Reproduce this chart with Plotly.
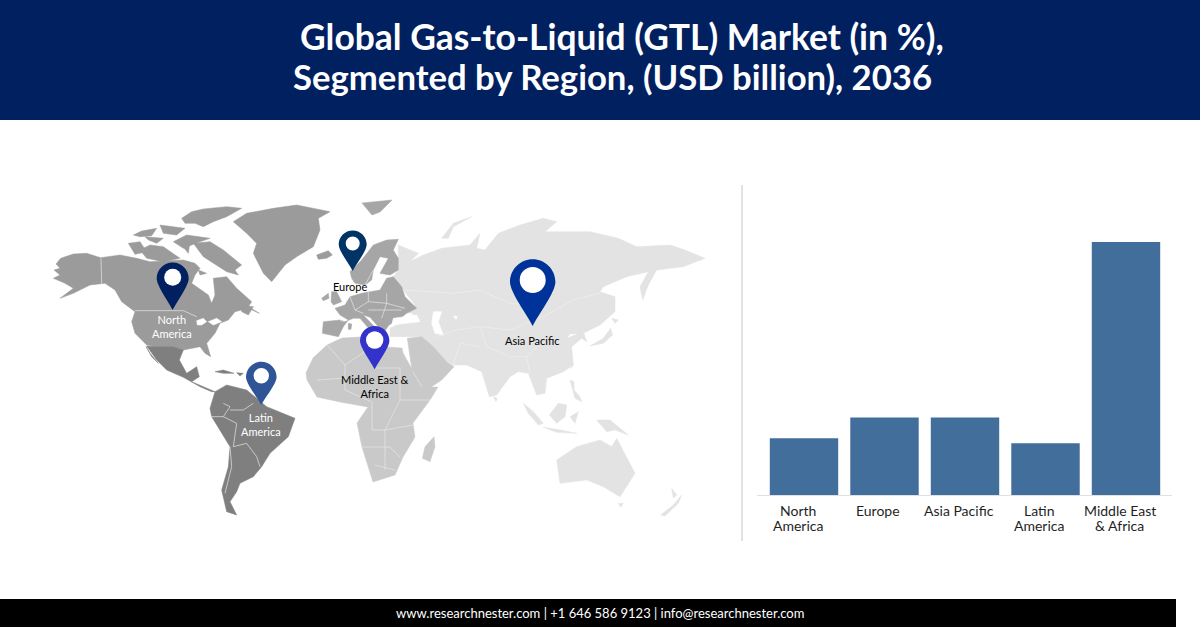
import plotly.graph_objects as go

# === CHART DATA ===
regions = ["North<br>America", "Europe", "Asia Pacific", "Latin<br>America", "Middle East<br>& Africa"]
shares = [11, 15, 15, 10, 49]

title_lines = ["Global Gas-to-Liquid (GTL) Market (in %),", "Segmented by Region, (USD billion), 2036"]
footer_text = "www.researchnester.com | +1 646 586 9123 | info@researchnester.com"

# === COLOURS ===
NAVY = "#002060"
BAR = "#416e9b"
NA_GREY = "#9b9b9b"
EU_GREY = "#a6a6a6"
LA_GREY = "#7f7f7f"
MEA_GREY = "#c9c9c9"
ASIA_GREY = "#e3e3e3"

# === MAP OUTLINES ===
# traced by hand off 3x crops of the reference, offsets below bring them back to page pixels
def crop1(pts):
    return [(40 + x / 3, 190 + y / 3) for x, y in pts]

def crop2(pts):
    return [(370 + x / 3, 190 + y / 3) for x, y in pts]

def crop3(pts):
    return [(120 + x / 3, 195 + y / 3) for x, y in pts]

def crop4(pts):
    return [(315 + x / 3, 230 + y / 3) for x, y in pts]

north_america = [
    crop1([(42,240),(60,235),(48,222),(62,205),(100,192),(140,190),(182,203),(240,195),(290,205),(330,215),(430,210),
           (465,220),(480,235),(465,255),(455,280),(505,315),(515,340),(525,315),(520,265),(560,260),(590,295),(635,335),
           (625,350),(658,370),(625,355),(585,365),(565,390),(540,400),(525,430),(500,460),(512,500),(495,490),(480,470),
           (430,480),(400,470),(350,470),(320,465),(285,430),(275,395),(285,365),(245,335),(225,300),(195,280),(150,285),
           (100,310),(60,325),(100,295),(75,280),(40,265),(60,255)]),
    crop3([(185,70),(215,50),(250,42),(320,35),(365,40),(320,65),(280,80),(250,95),(225,85),(195,85)]),
    crop3([(120,90),(165,95),(195,100),(170,120),(130,115)]),
    crop3([(40,120),(65,108),(110,100),(95,122),(60,125)]),
    crop3([(75,125),(130,130),(110,145),(85,135)]),
    crop3([(25,145),(60,140),(80,170),(45,178)]),
    crop3([(60,165),(90,150),(130,155),(150,170),(180,190),(130,200),(80,190)]),
    crop3([(160,140),(200,120),(270,130),(240,140),(190,160)]),
    crop3([(185,150),(210,140),(205,175)]),
    crop3([(220,145),(270,140),(310,165),(345,195),(365,210),(345,225),(355,240),(320,230),(290,210),(250,185),(235,165)]),
    crop3([(235,225),(260,235),(240,240)]),
    crop1([(605,345),(640,350),(625,375),(605,365)]),
    # Greenland
    crop1([(580,95),(620,70),(700,55),(770,45),(870,65),(835,85),(840,120),(820,170),(770,200),(735,225),(695,275),
           (670,250),(640,190),(650,160),(620,130)]),
    # Iceland
    crop1([(830,195),(865,182),(877,195),(860,205),(835,208)]),
]

latin_america = [crop1(p) for p in [
    [(320,468),(350,470),(400,470),(430,480),(418,510),(440,550),(470,530),(478,560),(455,575),(500,595),(525,605),
     (515,605),(480,590),(430,562),(380,540),(350,510)],
    [(318,470),(330,490),(355,520),(335,500)],
    [(525,605),(560,585),(620,600),(680,650),(765,685),(745,740),(690,790),(665,830),(640,860),(600,880),(590,905),
     (570,935),(590,975),(560,965),(545,900),(565,830),(570,770),(515,680),(510,655)],
    [(525,545),(550,540),(582,550),(550,550)],
    [(590,548),(610,550),(600,558)],
]]

europe = [
    crop4([(110,145),(105,125),(140,90),(175,45),(215,30),(250,28),(235,60),(250,85),(250,120),(225,135),(195,130),
           (220,85),(195,80),(175,120),(170,150),(150,165),(120,160)]),
    crop4([(60,235),(90,225),(105,200),(140,190),(195,180),(215,145),(235,140),(260,170),(270,200),(305,235),(275,250),
           (250,270),(222,285),(205,310),(190,290),(165,262),(145,255),(172,285),(188,300),(165,300),(135,265),(115,265),
           (90,275),(75,270),(25,275),(22,310),(70,320),(85,290),(100,270),(75,255)]),
    crop4([(50,185),(65,185),(80,215),(55,225),(48,215)]),
    crop4([(20,205),(40,190),(42,205),(25,212)]),
    crop4([(100,280),(110,282),(108,298),(100,298)]),
    [(362,203),(392,200),(380,212),(372,215)],
]

asia = [crop2(p) for p in [
    [(85,165),(145,190),(120,215),(160,195),(215,175),(300,165),(330,130),(320,175),(345,180),(385,130),(450,105),
     (520,85),(560,95),(525,125),(660,125),(745,145),(800,170),(900,165),(945,180),(1005,205),(940,230),(890,235),
     (860,240),(835,285),(818,330),(810,290),(835,245),(770,260),(700,290),(690,305),(735,320),(735,365),(690,405),
     (640,430),(600,432),(590,445),(640,425),(650,455),(635,445),(605,470),(610,525),(580,545),(530,565),(525,610),
     (500,615),(475,550),(445,545),(420,560),(380,615),(358,620),(335,545),(290,525),(250,525),(225,510),(190,470),
     (150,440),(60,440),(60,415),(100,395),(150,390),(125,370),(100,365),(135,345),(100,300),(70,260),(85,240)],
    # Novaya Zemlya
    [(215,145),(250,100),(305,80),(250,110),(235,145)],
    # Japan
    [(660,468),(700,445),(722,415),(728,435),(700,460)],
    [(725,385),(745,390),(735,400)],
    # Sri Lanka, Taiwan
    [(370,620),(382,625),(378,635)],
    [(603,520),(610,525),(603,535)],
    # Philippines
    [(600,570),(612,575),(612,600),(630,620),(635,635),(615,625)],
    # Sumatra, Java, Borneo, Sulawesi, New Guinea
    [(460,640),(490,665),(520,700),(505,705),(475,670)],
    [(520,712),(560,718),(620,730),(560,727)],
    [(538,675),(565,640),(590,645),(585,680),(560,700)],
    [(600,680),(625,665),(615,700)],
    [(680,690),(720,690),(775,735),(735,720),(710,725)],
    # Australia, Tasmania, New Zealand
    [(560,810),(620,770),(690,750),(725,770),(740,745),(795,850),(750,920),(700,890),(650,870),(570,880)],
    [(745,940),(760,940),(752,952)],
    [(872,975),(910,945),(935,915),(925,940),(885,978)],
    [(905,895),(920,915),(910,925)],
]]

middle_east_africa = [
    [(306,373),(313,358),(327,345),(342,338),(360,337),(373,340),(387,347),(402,348),(403,353),(422,387),(438,387),
     (430,400),(413,423),(415,437),(403,457),(395,475),(373,482),(362,447),(357,423),(368,407),(340,402),(317,397),(307,380)],
    crop2([(112,445),(155,440),(190,470),(230,515),(252,530),(215,570),(170,600),(155,590),(125,535)]),
    crop2([(157,805),(165,770),(192,740),(195,770),(180,815)]),
]

# seas and lakes sitting on top of the land
water = [
    crop2([(70,385),(140,375),(150,395),(90,402),(65,405)]),
    crop2([(190,365),(215,365),(205,395),(220,435),(195,430),(185,400)]),
    crop2([(250,378),(262,380),(258,388)]),
    crop1([(470,392),(490,385),(500,395),(485,405),(472,405)]),
    crop1([(505,395),(530,385),(545,395),(520,405)]),
]

# country borders, thin white lines
borders = [
    crop1([(285,362),(430,362),(470,380)]),
    crop1([(183,205),(185,280)]),
    crop1([(550,640),(570,650),(550,680),(590,700)]),
    crop1([(510,680),(550,680)]),
    crop1([(640,640),(610,660),(570,660)]),
    crop1([(590,700),(580,770),(620,760),(650,800),(660,830)]),
    crop1([(570,770),(575,830),(555,910)]),
    [(327,345),(345,365),(345,390),(372,402),(372,430),(385,430),(385,470)],
    [(345,365),(375,345)],
    [(360,338),(375,368),(400,368)],
    [(400,368),(400,400),(430,400)],
    [(400,400),(385,430),(413,425)],
    [(362,447),(390,447),(400,457)],
    [(375,465),(395,470)],
    [(317,380),(345,378)],
    crop4([(105,200),(120,240),(145,250)]),
    crop4([(120,240),(160,215),(215,220),(270,235)]),
    crop4([(160,215),(160,180)]),
    crop4([(215,190),(215,220),(200,265)]),
    crop4([(160,240),(200,240),(260,240)]),
    crop4([(175,120),(150,165)]),
    crop4([(85,275),(75,270)]),
    [(413,372),(422,387)],
]
asia_borders = [
    crop2([(200,440),(260,420),(330,410),(420,420),(520,380),(610,330),(690,310)]),
    crop2([(330,410),(350,470),(420,500),(470,500),(500,470)]),
    crop2([(250,525),(270,460),(330,470)]),
    crop2([(470,500),(480,550)]),
    crop2([(100,300),(250,310),(330,300),(420,340),(520,350)]),
]

# head centre x/y, head radius, tip y, inner y, inner radius, colour
pins = [
    (172.7, 278.5, 16.0, 310.0, 277.3, 8.5, "#002060"),
    (352.7, 244.5, 14.0, 271.0, 243.5, 7.0, "#003366"),
    (261.3, 377.0, 15.3, 405.0, 375.7, 7.7, "#2f5597"),
    (374.7, 340.7, 14.7, 369.3, 340.0, 8.7, "#3333cc"),
    (532.7, 282.0, 22.7, 326.0, 280.0, 13.0, "#003399"),
]

pin_labels = [
    ("North<br>America", 172, 326, "white"),
    ("Europe", 350, 286, "black"),
    ("Latin<br>America", 261, 424, "white"),
    ("Middle East &<br>Africa", 375, 386, "black"),
    ("Asia Pacific", 532, 340, "black"),
]


def add_land(fig, polys, color):
    for poly in polys:
        xs = [p[0] for p in poly] + [poly[0][0]]
        ys = [p[1] for p in poly] + [poly[0][1]]
        fig.add_trace(go.Scatter(x=xs, y=ys, xaxis="x2", yaxis="y2", mode="lines", fill="toself",
                                 fillcolor=color, line=dict(color=color, width=0.5),
                                 hoverinfo="skip", showlegend=False))


def add_lines(fig, lines, color, width):
    for line in lines:
        fig.add_trace(go.Scatter(x=[p[0] for p in line], y=[p[1] for p in line], xaxis="x2", yaxis="y2",
                                 mode="lines", line=dict(color=color, width=width),
                                 hoverinfo="skip", showlegend=False))


def pin_path(cx, cy, r, tip):
    k = 0.5523 * r
    return (f"M {cx-r} {cy} C {cx-r} {cy-k} {cx-k} {cy-r} {cx} {cy-r} "
            f"C {cx+k} {cy-r} {cx+r} {cy-k} {cx+r} {cy} "
            f"C {cx+r} {cy+0.45*r} {cx+0.25*r} {tip-0.5*r} {cx} {tip} "
            f"C {cx-0.25*r} {tip-0.5*r} {cx-r} {cy+0.45*r} {cx-r} {cy} Z")


# === FIGURE ===
fig = go.Figure()

add_land(fig, asia, ASIA_GREY)
add_land(fig, middle_east_africa, MEA_GREY)
add_land(fig, europe, EU_GREY)
add_land(fig, north_america, NA_GREY)
add_land(fig, latin_america, LA_GREY)
add_land(fig, water, "white")
add_lines(fig, borders, "#e6e6e6", 0.7)
add_lines(fig, asia_borders, "#efefef", 0.7)

# --- Bars ---
fig.add_trace(go.Bar(x=regions, y=shares, marker=dict(color=BAR, line=dict(width=0)), showlegend=False))

shapes = [
    dict(type="rect", x0=0, x1=1200, y0=0, y1=120, fillcolor=NAVY, line_width=0, layer="below"),
    dict(type="rect", x0=0, x1=1176, y0=599, y1=627, fillcolor="black", line_width=0, layer="below"),
    dict(type="line", x0=742, x1=742, y0=185, y1=541, line=dict(color="#d9d9d9", width=1.5)),
    # baseline runs a little past the axis domain
    dict(type="line", x0=757, x1=1172, y0=495.5, y1=495.5, line=dict(color="#e0e0e0", width=1)),
]
for cx, cy, r, tip, iy, ir, color in pins:
    shapes.append(dict(type="path", path=pin_path(cx, cy, r, tip), fillcolor=color, line_width=0))
    shapes.append(dict(type="circle", x0=cx-ir, x1=cx+ir, y0=iy-ir, y1=iy+ir, fillcolor="white", line_width=0))
for s in shapes:
    s["xref"] = "x2"
    s["yref"] = "y2"

annotations = [
    dict(text=label, x=x, y=y, xref="x2", yref="y2", showarrow=False, align="center",
         font=dict(family="Lato", size=11, color=color))
    for label, x, y, color in pin_labels
]
# title lines are not on one centre in the reference, nor quite the same size
for line, x, y, size in zip(title_lines, [621.5, 612], [36, 76], [35.4, 34.7]):
    annotations.append(dict(text=line, x=x, y=y, xref="x2", yref="y2", showarrow=False,
                            font=dict(family="Lato", size=size, color="white", weight="bold")))
annotations.append(dict(text=footer_text, x=600, y=612.5, xref="x2", yref="y2", showarrow=False,
                        font=dict(family="Lato", size=13, color="white")))
# category labels as annotations, axis ticks can't do the tight line spacing
for region in regions:
    for i, part in enumerate(region.split("<br>")):
        annotations.append(dict(text=part, x=region, y=510.5 + i * 15, xref="x", yref="y2", xshift=-6.5,
                                showarrow=False, font=dict(family="Lato", size=14, color="#1f1f1f")))

fig.update_layout(
    width=1200,
    height=628,
    margin=dict(l=0, r=0, t=0, b=0),
    paper_bgcolor="white",
    # transparent, the map subplot sits over the bars and would hide them
    plot_bgcolor="rgba(0,0,0,0)",
    bargap=0.15,
    shapes=shapes,
    annotations=annotations,
    # page-pixel axes for the map and furniture
    xaxis2=dict(domain=[0, 1], range=[0, 1200], visible=False, fixedrange=True, anchor="y2"),
    yaxis2=dict(domain=[0, 1], range=[628, 0], visible=False, fixedrange=True, anchor="x2"),
    # bar chart axes, baseline at y=495 and tallest bar at y=242
    xaxis=dict(domain=[763.75 / 1200, 1166.25 / 1200], anchor="y", showgrid=False, zeroline=False,
               showline=False, ticks="", showticklabels=False, fixedrange=True),
    yaxis=dict(domain=[(628 - 495) / 628, (628 - 242) / 628], range=[0, 49], anchor="x", visible=False, fixedrange=True),
)

fig.write_html("out.html", config=dict(displayModeBar=False), post_script="document.body.style.margin='0';")
